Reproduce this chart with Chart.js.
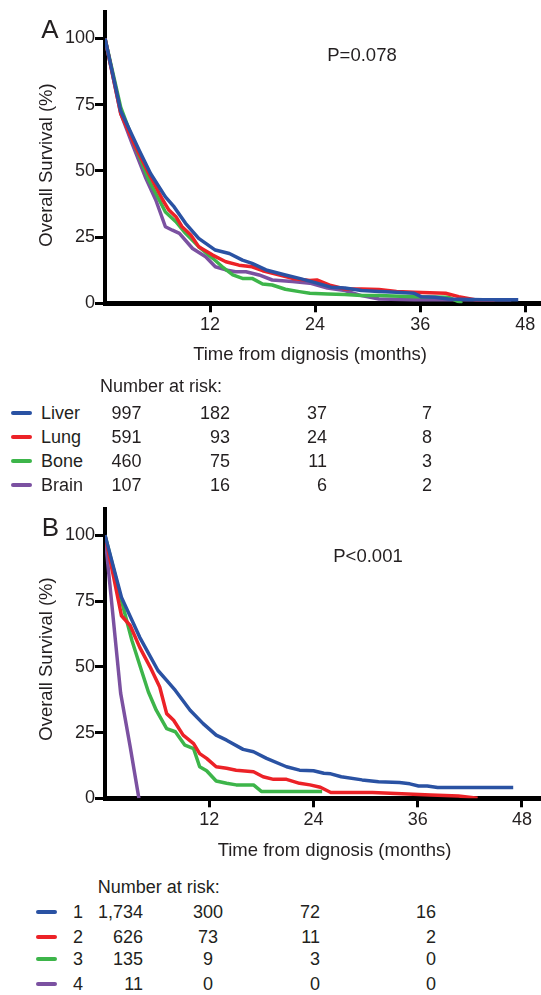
<!DOCTYPE html>
<html>
<head>
<meta charset="utf-8">
<script src="https://cdn.jsdelivr.net/npm/chart.js@4.4.1/dist/chart.umd.min.js"></script>
<style>
  html, body { margin: 0; padding: 0; background: #fff; }
  body {
    width: 541px; height: 995px; position: relative; overflow: hidden;
    font-family: "Liberation Sans", Arial, Helvetica, sans-serif; color: #231f20;
  }
  canvas { position: absolute; left: 0; }
  .txt { position: absolute; white-space: nowrap; line-height: 24px; height: 24px; }
  .swatch { position: absolute; height: 4px; border-radius: 2px; }
</style>
</head>
<body>
<canvas id="panelA" width="541" height="345" style="top:0;width:541px;height:345px"></canvas>
<canvas id="panelB" width="541" height="360" style="top:480px;width:541px;height:360px"></canvas>
<script>
// ---- axis ticks ----
const xTickValues = [12, 24, 36, 48];
const yTickValues = [0, 25, 50, 75, 100];

// ---- Panel A: metastatic site ----
const siteNames = ['Liver', 'Lung', 'Bone', 'Brain'];
const siteColors = ['#2a52a3', '#ec2227', '#3db54a', '#7b51a1'];

const liverMonths = [0, 1.8, 3.9, 5.2, 6.9, 7.9, 9.2, 10.7, 12.6, 14.2, 15.7, 16.8, 18.4, 20.6, 22.2, 24, 25.8, 27.4, 29.3, 31.3, 33.3, 35.3, 36.1, 37.7, 39.2, 43.2, 47.2];
const liverSurv   = [100, 72.6, 57.8, 49, 40.2, 36.4, 30.2, 24.5, 20.1, 18.8, 16.3, 15.1, 12.6, 10.7, 9.4, 7.8, 6.1, 5.8, 4.8, 4.5, 4.2, 3.8, 2.5, 2.3, 1.6, 1.3, 1.3];

const lungMonths = [0, 1.8, 3.5, 5, 6.6, 7.3, 8.1, 8.8, 9.8, 10.7, 12.3, 13.8, 15.3, 16.8, 18, 19.5, 21.4, 23.4, 24.2, 25.8, 27.4, 29.3, 31.3, 33.3, 35.3, 38.9, 40.4, 42.4, 44.5];
const lungSurv   = [100, 71.6, 59, 49, 39, 35.2, 32.7, 28.9, 25.8, 21.4, 18.2, 15.7, 14.4, 13.8, 12.3, 11, 9.4, 8.6, 8.8, 6.7, 5.4, 5.4, 5.2, 4.5, 4.2, 3.8, 2.5, 1.3, 1.3];

const boneMonths = [0, 1.8, 3.5, 5, 6.2, 6.9, 8.1, 9.2, 10.7, 12.3, 13.4, 14.6, 15.7, 16.8, 18, 19.1, 20.6, 22.2, 23.4, 25.4, 27.4, 29.3, 31.3, 35.3, 39.2, 40.8];
const boneSurv   = [100, 74, 59, 46.5, 39, 34.5, 30.8, 26.4, 21.4, 17, 13.8, 10.7, 9.4, 9.4, 7.3, 6.9, 5.3, 4.4, 3.8, 3.5, 3.3, 2.9, 2.9, 2.5, 2.3, 0];

const brainMonths = [0, 1.8, 3.1, 4.6, 5.8, 6.9, 7.7, 8.5, 10, 11.5, 12.6, 13.8, 14.9, 16.1, 17.6, 19.1, 21.4, 23.4, 25.4, 27.4, 29.3, 31.3, 35.3, 39.2, 46.4];
const brainSurv   = [100, 71.6, 60.3, 47.7, 39, 28.9, 27.6, 26.4, 20.7, 17.6, 13.8, 12.6, 11.9, 11.9, 10.7, 8.8, 8.2, 7.6, 5.8, 4.8, 2.9, 1.6, 1.3, 1.3, 1.3];

const riskLiver = [997, 182, 37, 7];
const riskLung  = [591, 93, 24, 8];
const riskBone  = [460, 75, 11, 3];
const riskBrain = [107, 16, 6, 2];

// ---- Panel B: number of metastatic sites ----
const countNames = ['1', '2', '3', '4'];
const countColors = ['#2a52a3', '#ec2227', '#3db54a', '#7b51a1'];

const oneMonths = [0, 1.9, 4, 6.1, 7.1, 8.1, 9.8, 11.3, 12.8, 14, 15.9, 17.1, 18.6, 20.9, 22.4, 24, 25.2, 26, 27.2, 29.6, 31.5, 33.9, 35.1, 36.1, 37.1, 38.3, 43.5, 47];
const oneSurv   = [100, 76.4, 61.2, 48.6, 44.8, 41, 33.5, 28.4, 24, 22.1, 18.6, 17.7, 15.2, 12, 10.7, 10.5, 9.5, 9.3, 8.2, 7, 6.3, 6, 5.5, 4.7, 4.7, 4.1, 4.1, 4.1];

const twoMonths = [0, 1, 1.9, 2.9, 4, 5.2, 6.3, 7.1, 7.9, 9, 10.2, 10.9, 11.7, 12.8, 14, 15.1, 17.1, 18.2, 19.4, 20.9, 22.4, 23.6, 24.8, 26, 27.6, 30.8, 33.5, 37.5, 40.7, 42.9];
const twoSurv   = [100, 84, 69.4, 65.7, 57.4, 49.9, 42.3, 32.2, 29.7, 24, 20.8, 17, 15.2, 12, 11.4, 10.7, 10.1, 8.2, 7.2, 7.2, 5.7, 5.1, 4.2, 2.2, 2.2, 2.2, 1.8, 1.3, 0.9, 0];

const threeMonths = [0, 1.9, 3.1, 4.2, 5, 5.9, 7.1, 8.1, 9.2, 10.2, 10.9, 11.7, 12.8, 14, 15.1, 17.1, 18, 25];
const threeSurv   = [100, 75.1, 60, 48.6, 40.4, 33.5, 26.5, 25.3, 20.2, 18.9, 12, 10.5, 6.6, 5.7, 5.1, 5.1, 2.6, 2.6];

const fourMonths = [0, 1.8, 2.9, 3.9];
const fourSurv   = [100, 40, 19.6, 0];

const riskOne   = [1734, 300, 72, 16];
const riskTwo   = [626, 73, 11, 2];
const riskThree = [135, 9, 3, 0];
const riskFour  = [11, 0, 0, 0];

// ---- helpers ----
const FONT = '"Liberation Sans", Arial, Helvetica, sans-serif';
const INK = '#231f20';

function points(months, surv) {
  return months.map((m, i) => ({ x: m, y: surv[i] }));
}

function survivalChart(id, names, colors, series, box) {
  const datasets = series.map((s, i) => ({
    label: names[i],
    data: points(s[0], s[1]),
    borderColor: colors[i],
    backgroundColor: colors[i],
    borderWidth: 3.5,
    pointRadius: 0,
    tension: 0,
    fill: false,
    borderJoinStyle: 'round'
  }));
  return new Chart(document.getElementById(id), {
    type: 'line',
    data: { datasets },
    options: {
      responsive: false,
      animation: false,
      devicePixelRatio: 1,
      layout: { padding: { top: box.top, right: 0, bottom: 0, left: 0 } },
      plugins: { legend: { display: false }, tooltip: { enabled: false } },
      scales: {
        x: {
          type: 'linear', min: 0, max: box.xMax,
          afterBuildTicks: s => { s.ticks = xTickValues.map(v => ({ value: v })); },
          afterFit: s => { s.height = box.canvasH - box.bottom; },
          border: { display: true, width: 5, color: '#000' },
          grid: { display: true, drawOnChartArea: false, drawTicks: true, tickLength: 9, tickWidth: 3, tickColor: '#000' },
          ticks: { autoSkip: false, maxRotation: 0, padding: 2, color: INK, font: { family: FONT, size: 18 } }
        },
        y: {
          type: 'linear', min: 0, max: 110,
          afterBuildTicks: s => { s.ticks = yTickValues.map(v => ({ value: v })); },
          afterFit: s => { s.width = box.left; },
          border: { display: true, width: 4, color: '#000' },
          grid: { display: true, drawOnChartArea: false, drawTicks: true, tickLength: 10, tickWidth: 3, tickColor: '#000' },
          ticks: { autoSkip: false, padding: 0, color: INK, font: { family: FONT, size: 18 } }
        }
      }
    }
  });
}

function label(text, x, yCenter, align, size, extra) {
  const d = document.createElement('div');
  d.className = 'txt';
  d.textContent = text;
  d.style.fontSize = size + 'px';
  d.style.left = x + 'px';
  d.style.top = (yCenter - 12) + 'px';
  const shift = align === 'right' ? '-100%' : align === 'center' ? '-50%' : '0';
  d.style.transform = 'translateX(' + shift + ')' + (extra || '');
  document.body.appendChild(d);
  return d;
}

function verticalTitle(text, xCenter, yCenter, size) {
  const d = document.createElement('div');
  d.className = 'txt';
  d.textContent = text;
  d.style.fontSize = size + 'px';
  d.style.left = xCenter + 'px';
  d.style.top = (yCenter - 12) + 'px';
  d.style.transform = 'translateX(-50%) rotate(-90deg)';
  d.style.transformOrigin = '50% 50%';
  document.body.appendChild(d);
}

function swatch(color, x1, x2, yCenter) {
  const d = document.createElement('div');
  d.className = 'swatch';
  d.style.background = color;
  d.style.left = x1 + 'px';
  d.style.width = (x2 - x1) + 'px';
  d.style.top = (yCenter - 2) + 'px';
  document.body.appendChild(d);
}

function riskTable(names, colors, rows, t) {
  label('Number at risk:', t.headX, t.headY, 'left', 18);
  rows.forEach((row, r) => {
    const y = t.rowY[r];
    swatch(colors[r], t.swatchX[0], t.swatchX[1], y);
    label(names[r], t.nameX, y, t.nameAlign, 18);
    row.forEach((v, c) => {
      label(v.toLocaleString('en-US'), t.colX[c], y, t.colAlign[c], 18);
    });
  });
}

// ---- Panel A ----
survivalChart('panelA', siteNames, siteColors,
  [[liverMonths, liverSurv], [lungMonths, lungSurv], [boneMonths, boneSurv], [brainMonths, brainSurv]],
  { top: 12, bottom: 303.3, left: 105, canvasH: 345, xMax: 49.8 });

label('A', 50, 29, 'center', 26);
label('P=0.078', 362, 55, 'center', 18.5);
verticalTitle('Overall Survival (%)', 46, 165, 18.5);
label('Time from dignosis (months)', 310, 354, 'center', 18.5);
riskTable(siteNames, siteColors, [riskLiver, riskLung, riskBone, riskBrain], {
  headX: 100, headY: 386,
  rowY: [412.7, 437.3, 461, 485],
  swatchX: [11, 32], nameX: 41, nameAlign: 'left',
  colX: [141.5, 230, 327, 432], colAlign: ['right', 'right', 'right', 'right']
});

// ---- Panel B ----
survivalChart('panelB', countNames, countColors,
  [[oneMonths, oneSurv], [twoMonths, twoSurv], [threeMonths, threeSurv], [fourMonths, fourSurv]],
  { top: 29, bottom: 318.3, left: 105, canvasH: 360, xMax: 50.2 });

label('B', 50.5, 527, 'center', 26);
label('P<0.001', 368, 556, 'center', 18.5);
verticalTitle('Overall Survival (%)', 46, 659, 18.5);
label('Time from dignosis (months)', 334.5, 850, 'center', 18.5);
riskTable(countNames, countColors, [riskOne, riskTwo, riskThree, riskFour], {
  headX: 97.7, headY: 886.7,
  rowY: [912.3, 936.7, 959.3, 984],
  swatchX: [36, 57], nameX: 78, nameAlign: 'center',
  colX: [143, 208, 320, 436], colAlign: ['right', 'center', 'right', 'right']
});
</script>
</body>
</html>
